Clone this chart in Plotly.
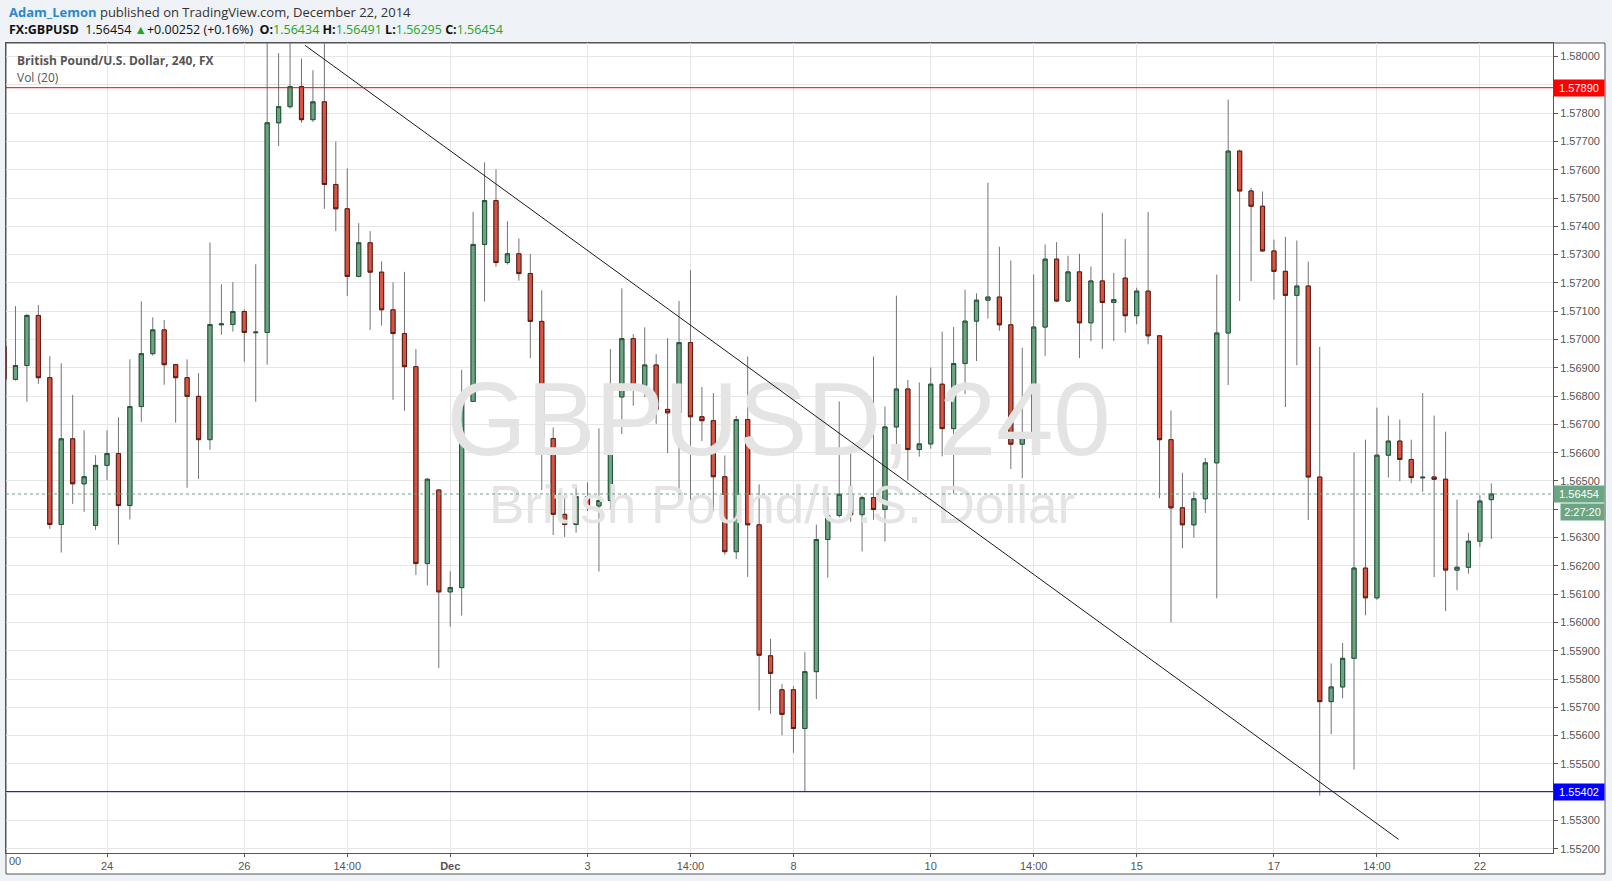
import plotly.graph_objects as go

# ---------------- data (4h GBPUSD bars, index 0..130) ----------------
opens = [1.56976, 1.56859, 1.56908, 1.57085, 1.56865, 1.56346, 1.56649, 1.56490, 1.56343, 1.56555,
         1.56597, 1.56413, 1.56763, 1.56950, 1.57034, 1.56911, 1.56865, 1.56799, 1.56646, 1.57052,
         1.57053, 1.57099, 1.57024, 1.57025, 1.57766, 1.57823, 1.57894, 1.57777, 1.57840, 1.57548,
         1.57462, 1.57223, 1.57342, 1.57238, 1.57105, 1.57021, 1.56904, 1.56208, 1.56468, 1.56108,
         1.56123, 1.56781, 1.57336, 1.57491, 1.57272, 1.57303, 1.57233, 1.57064, 1.56650, 1.56382,
         1.56346, 1.56445, 1.56412, 1.56431, 1.56797, 1.57003, 1.56838, 1.56910, 1.56753, 1.56741,
         1.56989, 1.56727, 1.56713, 1.56515, 1.56250, 1.56717, 1.56345, 1.55882, 1.55762, 1.55762,
         1.55625, 1.55826, 1.56293, 1.56378, 1.56453, 1.56381, 1.56441, 1.56399, 1.56691, 1.56825,
         1.56611, 1.56631, 1.56842, 1.56685, 1.56915, 1.57065, 1.57139, 1.57150, 1.57052, 1.56630,
         1.56662, 1.57044, 1.57284, 1.57136, 1.57239, 1.57059, 1.57207, 1.57131, 1.57217, 1.57084,
         1.57171, 1.57013, 1.56646, 1.56405, 1.56345, 1.56437, 1.56564, 1.57023, 1.57666, 1.57525,
         1.57471, 1.57313, 1.57241, 1.57156, 1.57189, 1.56514, 1.55720, 1.55772, 1.55873, 1.56192,
         1.56087, 1.56591, 1.56641, 1.56576, 1.56511, 1.56514, 1.56506, 1.56185, 1.56195, 1.56287,
         1.56434]
highs = [1.56990, 1.57118, 1.57090, 1.57122, 1.56941, 1.56916, 1.56804, 1.56679, 1.56591, 1.56679,
         1.56725, 1.56930, 1.57135, 1.57078, 1.57069, 1.56914, 1.56930, 1.56881, 1.57343, 1.57195,
         1.57203, 1.57107, 1.57266, 1.58120, 1.58012, 1.58080, 1.57993, 1.57952, 1.58060, 1.57700,
         1.57605, 1.57411, 1.57383, 1.57276, 1.57202, 1.57239, 1.56966, 1.56510, 1.56470, 1.56181,
         1.56893, 1.57451, 1.57626, 1.57601, 1.57418, 1.57357, 1.57303, 1.57174, 1.56689, 1.56442,
         1.56485, 1.56495, 1.56686, 1.56966, 1.57181, 1.57019, 1.57043, 1.56948, 1.57005, 1.57136,
         1.57245, 1.56832, 1.56811, 1.56590, 1.56730, 1.56940, 1.56488, 1.55942, 1.55782, 1.55775,
         1.55895, 1.56346, 1.56445, 1.56781, 1.56598, 1.56448, 1.56940, 1.56763, 1.57155, 1.56857,
         1.56848, 1.56901, 1.57028, 1.57044, 1.57176, 1.57163, 1.57554, 1.57328, 1.57279, 1.56971,
         1.57230, 1.57336, 1.57344, 1.57296, 1.57303, 1.57258, 1.57448, 1.57235, 1.57355, 1.57183,
         1.57451, 1.57016, 1.56749, 1.56529, 1.56462, 1.56581, 1.57229, 1.57848, 1.57671, 1.57536,
         1.57523, 1.57353, 1.57363, 1.57350, 1.57275, 1.56974, 1.55855, 1.55927, 1.56601, 1.56646,
         1.56759, 1.56731, 1.56717, 1.56646, 1.56811, 1.56731, 1.56674, 1.56434, 1.56317, 1.56450,
         1.56491]
lows = [1.56850, 1.56855, 1.56780, 1.56843, 1.56331, 1.56247, 1.56419, 1.56391, 1.56327, 1.56503,
        1.56275, 1.56364, 1.56709, 1.56943, 1.56840, 1.56706, 1.56476, 1.56507, 1.56610, 1.57017,
        1.57028, 1.56921, 1.56780, 1.56911, 1.57684, 1.57816, 1.57766, 1.57769, 1.57462, 1.57383,
        1.57154, 1.57220, 1.57034, 1.57049, 1.56787, 1.56748, 1.56168, 1.56131, 1.55839, 1.55985,
        1.56024, 1.56781, 1.57134, 1.57257, 1.57265, 1.57208, 1.56934, 1.56468, 1.56309, 1.56302,
        1.56317, 1.56394, 1.56180, 1.56399, 1.56666, 1.56766, 1.56797, 1.56702, 1.56599, 1.56422,
        1.56430, 1.56641, 1.56393, 1.56239, 1.56224, 1.56161, 1.55689, 1.55677, 1.55601, 1.55539,
        1.55402, 1.55729, 1.56158, 1.56371, 1.56356, 1.56251, 1.56363, 1.56286, 1.56546, 1.56502,
        1.56586, 1.56614, 1.56587, 1.56456, 1.56807, 1.56924, 1.57074, 1.57031, 1.56542, 1.56510,
        1.56662, 1.56942, 1.57132, 1.57132, 1.56934, 1.56994, 1.56967, 1.56995, 1.57024, 1.57054,
        1.56983, 1.56439, 1.56000, 1.56262, 1.56299, 1.56387, 1.56085, 1.56839, 1.57136, 1.57206,
        1.57310, 1.57141, 1.56761, 1.56909, 1.56362, 1.55388, 1.55605, 1.55732, 1.55480, 1.56025,
        1.56080, 1.56512, 1.56499, 1.56492, 1.56462, 1.56160, 1.56040, 1.56114, 1.56172, 1.56267,
        1.56295]
closes = [1.56859, 1.56908, 1.57085, 1.56865, 1.56346, 1.56649, 1.56490, 1.56515, 1.56555, 1.56597,
          1.56413, 1.56763, 1.56950, 1.57034, 1.56911, 1.56865, 1.56799, 1.56646, 1.57053, 1.57055,
          1.57099, 1.57025, 1.57026, 1.57766, 1.57823, 1.57894, 1.57777, 1.57840, 1.57548, 1.57462,
          1.57223, 1.57342, 1.57238, 1.57105, 1.57021, 1.56904, 1.56208, 1.56506, 1.56108, 1.56123,
          1.56781, 1.57336, 1.57491, 1.57272, 1.57303, 1.57233, 1.57064, 1.56650, 1.56382, 1.56346,
          1.56445, 1.56412, 1.56431, 1.56797, 1.57003, 1.56838, 1.56910, 1.56753, 1.56741, 1.56989,
          1.56727, 1.56713, 1.56515, 1.56250, 1.56717, 1.56345, 1.55884, 1.55820, 1.55675, 1.55625,
          1.55826, 1.56293, 1.56378, 1.56453, 1.56381, 1.56441, 1.56399, 1.56691, 1.56825, 1.56611,
          1.56631, 1.56842, 1.56685, 1.56915, 1.57065, 1.57139, 1.57150, 1.57052, 1.56630, 1.56662,
          1.57044, 1.57284, 1.57136, 1.57239, 1.57059, 1.57207, 1.57131, 1.57141, 1.57084, 1.57171,
          1.57013, 1.56646, 1.56405, 1.56345, 1.56437, 1.56564, 1.57023, 1.57666, 1.57525, 1.57471,
          1.57313, 1.57241, 1.57156, 1.57189, 1.56514, 1.55720, 1.55772, 1.55873, 1.56192, 1.56087,
          1.56591, 1.56641, 1.56576, 1.56512, 1.56513, 1.56506, 1.56185, 1.56195, 1.56287, 1.56429,
          1.56454]
bar_index = list(range(len(opens)))

# x-axis labels (bar index -> label)
tick_bars = [9, 21, 30, 39, 51, 60, 69, 81, 90, 99, 111, 120, 129]
tick_labels = ['24', '26', '14:00', '<b>Dec</b>', '3', '14:00', '8', '10', '14:00', '15', '17', '14:00', '22']

# y-axis ticks (labels hidden under the price flags in the original are left blank)
hidden_ticks = [1.579, 1.564, 1.554]
ytick_vals = [round(1.552 + 0.001 * k, 3) for k in range(29)]
ytick_text = ['' if any(abs(v - h) < 1e-9 for h in hidden_ticks) else '%.5f' % v for v in ytick_vals]

# drawn levels and trend line
resistance = 1.57890
support = 1.55402
last_price = 1.56454
trend_x = [26.3, 121.9]
trend_y = [1.58040, 1.55233]

# ---------------- layout geometry (pixels) ----------------
W, H = 1612, 881
L, R, T, B = 6, 1553, 43, 853


def px_x(px):
    return (px - L) / (R - L)


def px_y(py):
    return (B - py) / (B - T)


GREEN_FILL, GREEN_LINE = '#6ba583', '#225437'
RED_FILL, RED_LINE = '#d75442', '#5b1a13'
WICK = '#737375'
AXIS_FONT = 'Liberation Sans, Arial, sans-serif'

fig = go.Figure()

# watermark (drawn first so it sits beneath the candles)
fig.add_trace(go.Scatter(
    x=[67.7, 68.0], y=[1.56684, 1.56398], mode='text',
    text=['GBPUSD, 240', 'British Pound/U.S. Dollar'],
    textfont=dict(family='Liberation Sans, Arial, sans-serif', size=[103, 53], color='#e4e4e4'),
    hoverinfo='skip'))

# wicks
fig.add_trace(go.Candlestick(
    x=bar_index, open=opens, high=highs, low=lows, close=closes,
    increasing=dict(line=dict(color=WICK, width=1), fillcolor=WICK),
    decreasing=dict(line=dict(color=WICK, width=1), fillcolor=WICK),
    whiskerwidth=0, hoverinfo='skip'))

# bodies
body_hi = [max(o, c) for o, c in zip(opens, closes)]
body_lo = [min(o, c) for o, c in zip(opens, closes)]
fig.add_trace(go.Candlestick(
    x=bar_index, open=opens, high=body_hi, low=body_lo, close=closes,
    increasing=dict(line=dict(color=GREEN_LINE, width=1), fillcolor=GREEN_FILL),
    decreasing=dict(line=dict(color=RED_LINE, width=1), fillcolor=RED_FILL),
    whiskerwidth=0, hoverinfo='skip'))

# trend line
fig.add_trace(go.Scatter(x=trend_x, y=trend_y, mode='lines',
                         line=dict(color='#1a1a1a', width=1), hoverinfo='skip'))

shapes = [
    # outer frame (white panel)
    dict(type='rect', xref='paper', yref='paper', x0=px_x(6), x1=px_x(1605),
         y0=px_y(874), y1=px_y(43), line=dict(color='#555555', width=1),
         fillcolor='white', layer='below'),
    dict(type='line', xref='paper', yref='y', x0=0, x1=1, y0=resistance, y1=resistance,
         line=dict(color='#ff0000', width=1)),
    dict(type='line', xref='paper', yref='y', x0=0, x1=1, y0=support, y1=support,
         line=dict(color='#0000ff', width=1)),
    dict(type='line', xref='paper', yref='y', x0=0, x1=1, y0=last_price, y1=last_price,
         line=dict(color=GREEN_FILL, width=1, dash='dot')),
]

G = '#22a722'
ann = [
    dict(xref='paper', yref='paper', x=px_x(7), y=px_y(12), xanchor='left', yanchor='middle',
         text="<span style='color:#2e87c8'><b>Adam_Lemon</b></span> published on TradingView.com, December 22, 2014",
         showarrow=False, font=dict(family='Open Sans, sans-serif', size=13, color='#333333')),
    dict(xref='paper', yref='paper', x=px_x(7), y=px_y(29), xanchor='left', yanchor='middle',
         text=("<b>FX:GBPUSD</b>\u00a0\u00a01.56454\u00a0<span style='color:%s'>\u25b2</span>+0.00252 (+0.16%%)"
               "\u00a0\u00a0<b>O:</b><span style='color:%s'>1.56434</span>\u00a0<b>H:</b><span style='color:%s'>1.56491</span>"
               "\u00a0<b>L:</b><span style='color:%s'>1.56295</span>\u00a0<b>C:</b><span style='color:%s'>1.56454</span>")
         % (G, G, G, G, G),
         showarrow=False, font=dict(family='Open Sans, sans-serif', size=12.5, color='#111111')),
    dict(xref='paper', yref='paper', x=px_x(15), y=px_y(60.5), xanchor='left', yanchor='middle',
         text='<b>British Pound/U.S. Dollar, 240, FX</b>', showarrow=False,
         font=dict(family='Open Sans, sans-serif', size=12, color='#555555')),
    dict(xref='paper', yref='paper', x=px_x(15), y=px_y(77.5), xanchor='left', yanchor='middle',
         text='Vol (20)', showarrow=False,
         font=dict(family='Open Sans, sans-serif', size=12, color='#555555')),
    # clipped left-edge time label
    dict(xref='paper', yref='paper', x=px_x(7), y=px_y(861.5), xanchor='left', yanchor='middle',
         text='00', showarrow=False, font=dict(family=AXIS_FONT, size=11, color='#555555')),
    # price flags on right axis
    dict(xref='paper', yref='y', x=px_x(1553), y=resistance, xanchor='left', yanchor='middle',
         text='1.57890', showarrow=False, bgcolor='#ff0000', width=48, height=14, borderpad=1,
         font=dict(family=AXIS_FONT, size=11, color='white')),
    dict(xref='paper', yref='y', x=px_x(1553), y=last_price, xanchor='left', yanchor='middle',
         text='1.56454', showarrow=False, bgcolor=GREEN_FILL, width=48, height=14, borderpad=1,
         font=dict(family=AXIS_FONT, size=11, color='white')),
    dict(xref='paper', yref='paper', x=px_x(1560), y=px_y(511.5), xanchor='left', yanchor='middle',
         text='2:27:20', showarrow=False, bgcolor=GREEN_FILL, width=41, height=14, borderpad=1,
         font=dict(family=AXIS_FONT, size=11, color='white')),
    dict(xref='paper', yref='y', x=px_x(1553), y=support, xanchor='left', yanchor='middle',
         text='1.55402', showarrow=False, bgcolor='#0000ff', width=48, height=14, borderpad=1,
         font=dict(family=AXIS_FONT, size=11, color='white')),
]

fig.update_layout(
    width=W, height=H, autosize=False,
    margin=dict(l=L, r=W - R, t=T, b=H - B, pad=0),
    paper_bgcolor='#eff2f7', plot_bgcolor='white',
    showlegend=False, hovermode=False, dragmode=False,
    boxgap=0.48, boxmode='overlay',
    shapes=shapes, annotations=ann,
    xaxis=dict(range=[0.172, 135.39], tickmode='array', tickvals=tick_bars, ticktext=tick_labels,
               showgrid=True, gridcolor='#e6e6e6', gridwidth=1, zeroline=False,
               showline=True, linecolor='#555555', linewidth=1, mirror=True,
               ticks='outside', ticklen=3, tickcolor='#555555',
               tickfont=dict(family=AXIS_FONT, size=11, color='#555555'),
               rangeslider=dict(visible=False), fixedrange=True),
    yaxis=dict(range=[1.55185, 1.58048], side='right', tickmode='array',
               tickvals=ytick_vals, ticktext=ytick_text,
               showgrid=True, gridcolor='#e6e6e6', gridwidth=1, zeroline=False,
               showline=True, linecolor='#555555', linewidth=1, mirror=True,
               ticks='outside', ticklen=4, tickcolor='#555555',
               tickfont=dict(family=AXIS_FONT, size=11, color='#555555'), fixedrange=True),
)

fig.write_html('out.html', config={'displayModeBar': False},
               post_script="document.body.style.margin='0px';document.body.style.overflow='hidden';")
